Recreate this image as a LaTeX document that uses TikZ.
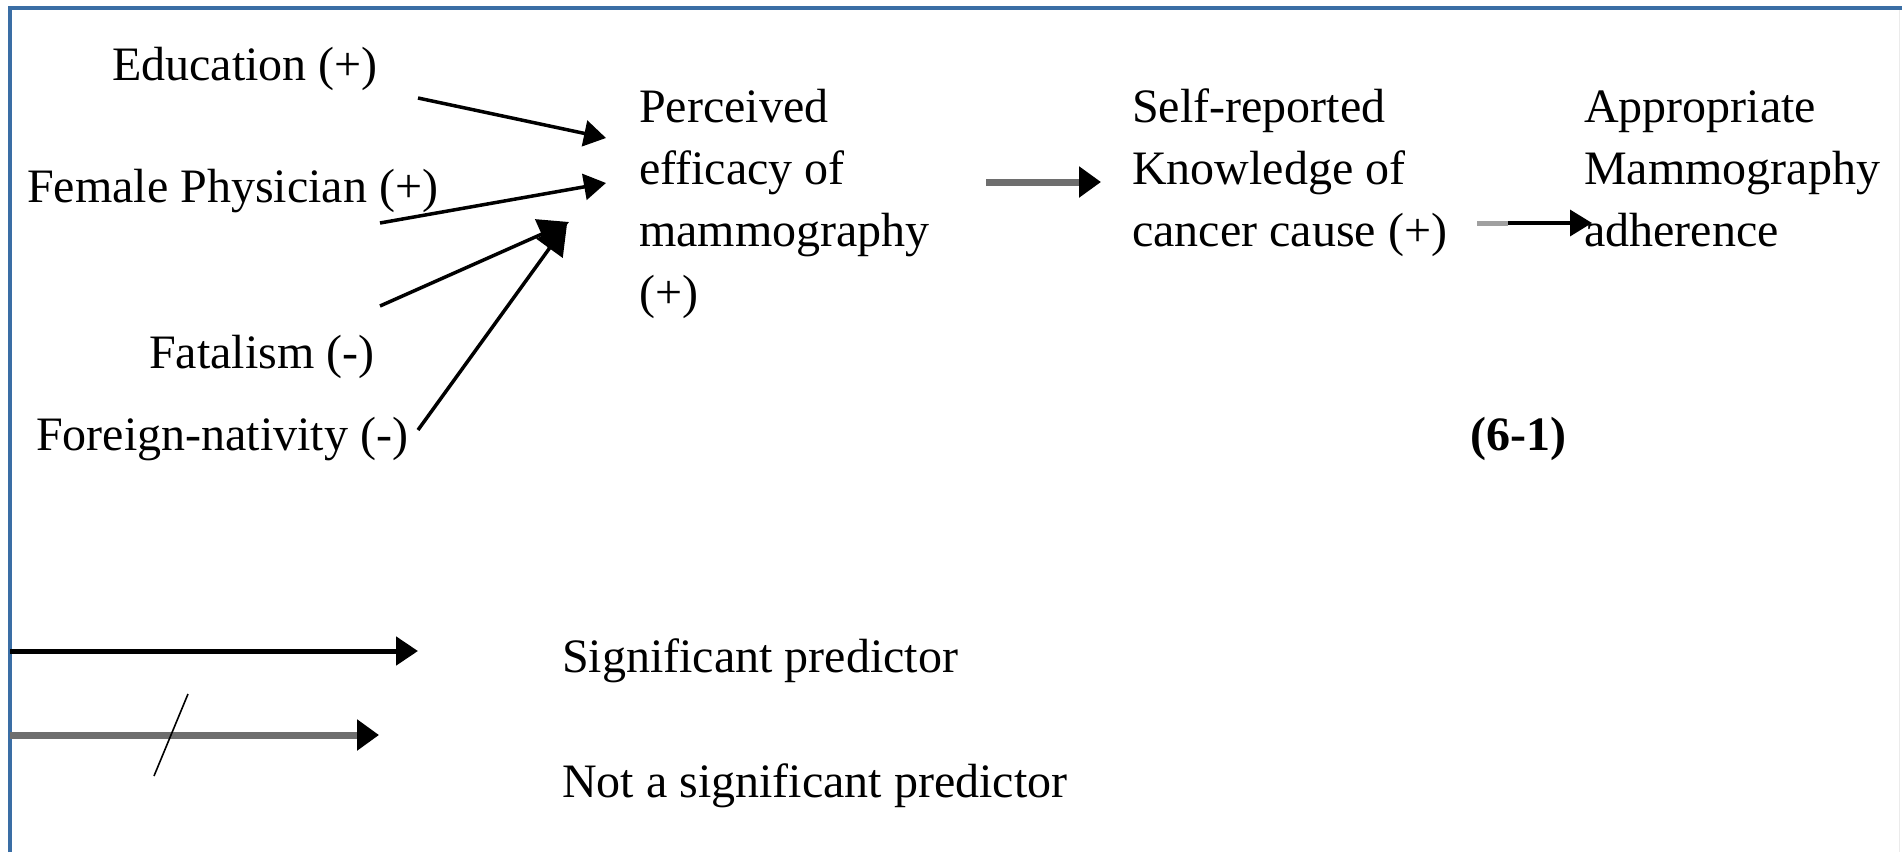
\documentclass[tikz,border=0pt]{standalone}
\usepackage{fontspec}
\setmainfont{Liberation Serif}
\usetikzlibrary{arrows.meta}
\definecolor{frameblue}{HTML}{3A6EA5}
\definecolor{nsgray}{HTML}{6E6E6E}
\definecolor{lightgray2}{HTML}{A0A0A0}
\begin{document}
\begin{tikzpicture}[x=1pt,y=-1pt,
  lbl/.style={font=\fontsize{48}{62}\selectfont, inner sep=0pt, anchor=base west, align=left},
  sigarrow/.style={line width=3.5pt, -{Triangle[length=22pt,width=26pt]}},
  bigarrow/.style={line width=3.5pt, -{Triangle[length=30pt,width=32pt]}},
  nsarrow/.style={line width=7pt, nsgray, -{Triangle[length=22pt,width=30pt,color=black]}},
  frame/.style={line width=3.5pt, frameblue}]
\useasboundingbox (0,0) rectangle (1902,852);
\fill[white] (0,0) rectangle (1902,852);
% frame
\coordinate (ftl) at (10,8);
\coordinate (ftr) at (1902,8);
\coordinate (fbl) at (10,852);
\draw[frame] (fbl) -- (ftl) -- (ftr);
\draw[line width=1pt, black!8] (1899,10) -- (1899,852);
% texts (base anchor = baseline of the last line)
\node[lbl] (edu) at (112,80) {Education (+)};
\node[lbl] (fem) at (27,202) {Female Physician (+)};
\node[lbl] (fat) at (149,368) {Fatalism (-)};
\node[lbl] (for) at (36,450) {Foreign-nativity (-)};
\node[lbl] (perc) at (639,308) {Perceived\\efficacy of\\mammography\\(+)};
\node[lbl] (self) at (1132,246) {Self-reported\\Knowledge of\\cancer cause (+)};
\node[lbl] (appr) at (1584,246) {Appropriate\\Mammography\\adherence};
\node[lbl, font=\fontsize{48}{62}\selectfont\bfseries] (fig) at (1470,450) {(6-1)};
\node[lbl] (legsig) at (562,672) {Significant predictor};
\node[lbl] (legns) at (562,797) {Not a significant predictor};
% arrow end points
\coordinate (edu-s) at (418,98);
\coordinate (edu-e) at (606,138);
\coordinate (fem-s) at (380,223);
\coordinate (fem-e) at (606,183);
\coordinate (fat-s) at (380,306);
\coordinate (fat-e) at (569,222);
\coordinate (for-s) at (418,430);
\coordinate (for-e) at (567,224);
\coordinate (perc-s) at (986,182);
\coordinate (perc-e) at (1101,182);
\coordinate (self-s) at (1477,223);
\coordinate (self-m) at (1508,223);
\coordinate (self-e) at (1592,223);
\coordinate (lsig-s) at (10,651);
\coordinate (lsig-e) at (418,651);
\coordinate (lns-s) at (10,735);
\coordinate (lns-e) at (379,735);
\coordinate (slash-t) at (188,694);
\coordinate (slash-b) at (154,776);
% connectors
\draw[sigarrow] (edu-s) -- (edu-e);
\draw[sigarrow] (fem-s) -- (fem-e);
\draw[bigarrow] (fat-s) -- (fat-e);
\draw[bigarrow] (for-s) -- (for-e);
\draw[nsarrow] (perc-s) -- (perc-e);
\draw[line width=5pt, lightgray2] (self-s) -- (self-m);
\draw[sigarrow] (self-m) -- (self-e);
% legend
\draw[line width=5pt, -{Triangle[length=22pt,width=28pt]}] (lsig-s) -- (lsig-e);
\draw[nsarrow] (lns-s) -- (lns-e);
\draw[line width=1.6pt] (slash-t) -- (slash-b);
\end{tikzpicture}
\end{document}
